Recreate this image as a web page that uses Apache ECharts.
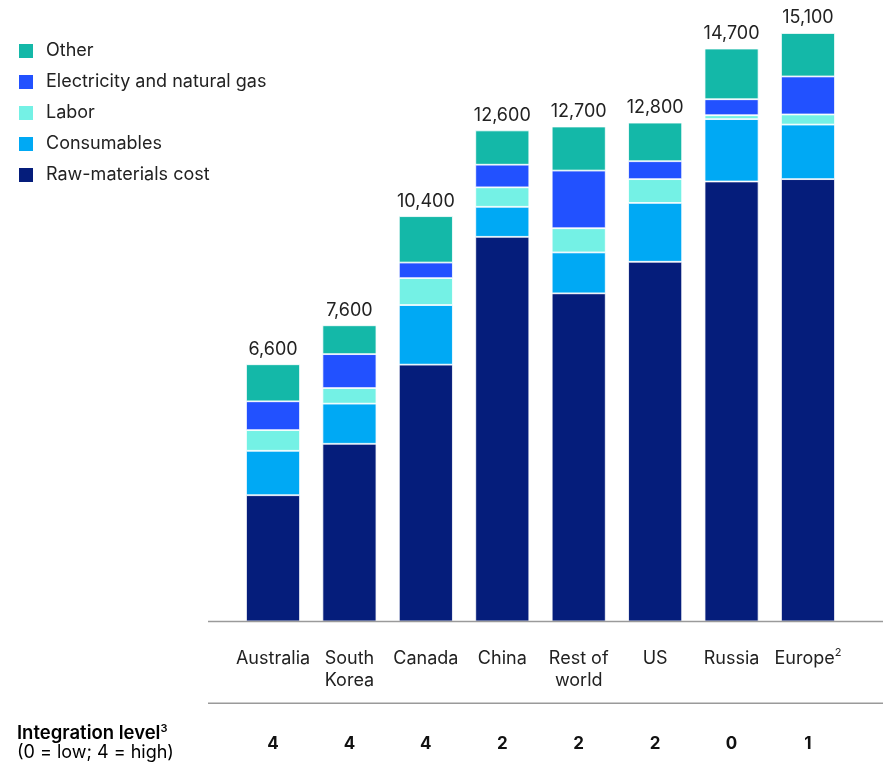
<!DOCTYPE html>
<html>
<head>
<meta charset="utf-8">
<script src="https://cdn.jsdelivr.net/npm/echarts/dist/echarts.min.js"></script>
<style>
  html, body { margin: 0; padding: 0; background: #fff; }
  #chart { width: 883px; height: 781px; }
</style>
</head>
<body>
<div id="chart"></div>
<script>
// ---- data ----
var categories = ['Australia', 'South\nKorea', 'Canada', 'China', 'Rest of\nworld', 'US', 'Russia', 'Europe'];
var categoryNotes = ['', '', '', '', '', '', '', '2'];
var totals = [6600, 7600, 10400, 12600, 12700, 12800, 14700, 15100];
var integrationLevel = [4, 4, 4, 2, 2, 2, 0, 1];

var rawMaterials = [3240, 4560, 6590, 9870, 8420, 9230, 11290, 11350];
var consumables  = [1140, 1030, 1530,  770, 1050, 1510,  1600,  1400];
var labor        = [ 530,  400,  690,  500,  620,  610,   100,   260];
var electricity  = [ 740,  870,  400,  580, 1480,  460,   410,   975];
var other        = [ 950,  740, 1190,  880, 1130,  990,  1300,  1115];

var seriesNames = ['Raw-materials cost', 'Consumables', 'Labor', 'Electricity and natural gas', 'Other'];
var seriesColors = ['#051D7B', '#00A9F4', '#74F1E5', '#2251FF', '#14B8A8'];
var seriesValues = [rawMaterials, consumables, labor, electricity, other];
var legendOrder = ['Other', 'Electricity and natural gas', 'Labor', 'Consumables', 'Raw-materials cost'];

// ---- layout ----
var FONT = 'Inter, "Liberation Sans", Arial, sans-serif';
var gridLeft = 234.8, gridWidth = 611.4, gridTop = 21.3, gridHeight = 600.2;
var axisY = gridTop + gridHeight;

var chart = echarts.init(document.getElementById('chart'), null, { renderer: 'canvas' });

var series = seriesNames.map(function (name, i) {
  var s = {
    name: name,
    type: 'bar',
    stack: 'total',
    barWidth: 54,
    data: seriesValues[i],
    itemStyle: { color: seriesColors[i], borderColor: '#ffffff', borderWidth: 0.8 },
    emphasis: { disabled: true },
    animation: false
  };
  if (i === seriesNames.length - 1) {
    s.label = {
      show: true,
      position: 'top',
      distance: 6,
      fontFamily: FONT,
      fontSize: 18,
      color: '#222',
      formatter: function (p) { return totals[p.dataIndex].toLocaleString('en-US'); }
    };
  }
  return s;
});

var option = {
  backgroundColor: '#fff',
  animation: false,
  textStyle: { fontFamily: FONT },
  legend: {
    orient: 'vertical',
    left: 17,
    top: 42,
    padding: 0,
    itemWidth: 16,
    itemHeight: 16,
    itemGap: 13,
    icon: 'rect',
    selectedMode: false,
    data: legendOrder,
    textStyle: { fontFamily: FONT, fontSize: 18, color: '#222', padding: [0, 0, 0, 7] }
  },
  grid: { left: gridLeft, width: gridWidth, top: gridTop, height: gridHeight, containLabel: false },
  xAxis: [
    {
      type: 'category',
      data: categories,
      axisLine: { show: false },
      axisTick: { show: false },
      axisLabel: {
        interval: 0,
        margin: 26,
        fontFamily: FONT,
        fontSize: 18,
        lineHeight: 22,
        color: '#222',
        formatter: function (v, idx) {
          var note = categoryNotes[idx];
          return note ? v + '{sup|' + note + '}' : v;
        },
        rich: {
          sup: { fontFamily: FONT, fontSize: 11, color: '#222', verticalAlign: 'top', padding: [0, 0, 8, 0] }
        }
      }
    },
    {
      type: 'category',
      position: 'bottom',
      offset: 106,
      data: categories,
      axisLine: { show: false },
      axisTick: { show: false },
      axisLabel: {
        interval: 0,
        margin: 8,
        fontFamily: FONT,
        fontSize: 17,
        fontWeight: 'bold',
        color: '#111',
        formatter: function (v, idx) { return String(integrationLevel[idx]); }
      }
    }
  ],
  yAxis: { type: 'value', min: 0, max: 15400, show: false, splitLine: { show: false } },
  series: series,
  graphic: [
    { type: 'line', shape: { x1: 208, y1: axisY, x2: 883, y2: axisY }, style: { stroke: '#9a9a9a', lineWidth: 1.5 }, z: 10 },
    { type: 'line', shape: { x1: 208, y1: 703.3, x2: 883, y2: 703.3 }, style: { stroke: '#9a9a9a', lineWidth: 1.5 } },
    {
      type: 'text', left: 17, top: 723,
      style: {
        text: '{b|Integration level}{sup|3}\n{n|(0 = low; 4 = high)}',
        rich: {
          b: { fontFamily: FONT, fontSize: 18.5, fontWeight: 600, color: '#111', lineHeight: 20 },
          sup: { fontFamily: FONT, fontSize: 11, fontWeight: 600, color: '#111', verticalAlign: 'top', padding: [0, 0, 8, 0], lineHeight: 20 },
          n: { fontFamily: FONT, fontSize: 18, color: '#222', lineHeight: 20 }
        }
      }
    }
  ]
};

chart.setOption(option);
</script>
</body>
</html>
